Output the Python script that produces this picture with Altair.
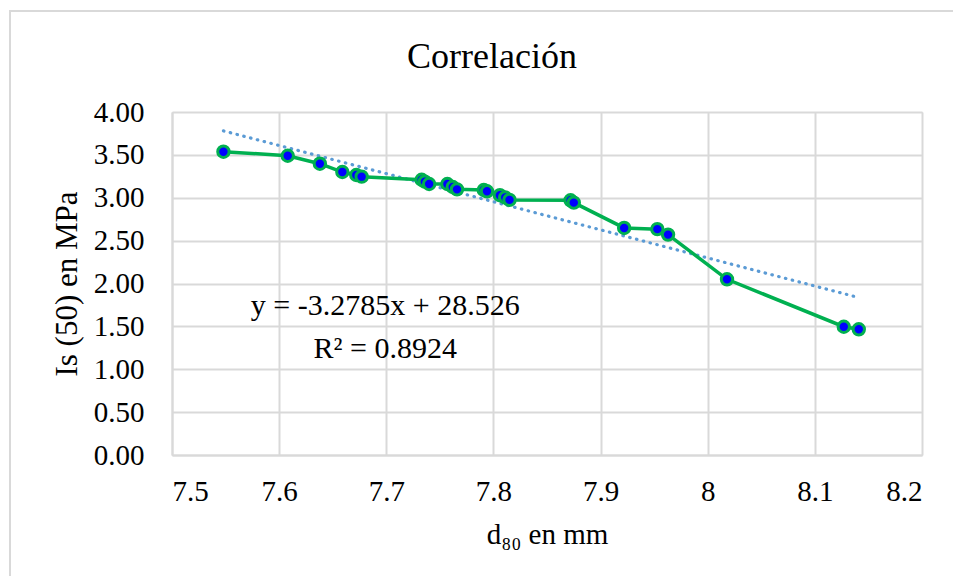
import altair as alt
import pandas as pd

# Data
d80 = [7.548, 7.608, 7.638, 7.659, 7.672, 7.677, 7.733, 7.736, 7.740, 7.757,
       7.762, 7.766, 7.791, 7.794, 7.806, 7.811, 7.815, 7.872, 7.875, 7.922,
       7.953, 7.963, 8.018, 8.127, 8.141]
is50 = [3.537, 3.49, 3.397, 3.30, 3.265, 3.246, 3.21, 3.188, 3.16, 3.16,
        3.125, 3.098, 3.09, 3.075, 3.03, 3.003, 2.975, 2.97, 2.943, 2.648,
        2.634, 2.57, 2.049, 1.496, 1.466]

# Trend line as printed on the chart
slope = -3.2785
intercept = 28.526
trend_x = [7.548, 8.141]

eq_lines = ["y = -3.2785x  + 28.526", "R² = 0.8924"]
eq_x = [7.699, 7.699]
eq_y = [1.633, 1.131]

x_ticks = [7.5, 7.6, 7.7, 7.8, 7.9, 8.0, 8.1, 8.2]
y_ticks = [0.0, 0.5, 1.0, 1.5, 2.0, 2.5, 3.0, 3.5, 4.0]

FONT = "Liberation Serif"
GREEN = "#00B050"
BLUE = "#0000FF"
TREND = "#5B9BD5"
GRID = "#d9d9d9"

df = pd.DataFrame({"d80": d80, "is50": is50})
trend_df = pd.DataFrame({"d80": trend_x})
eq_df = pd.DataFrame({"text": eq_lines, "d80": eq_x, "is50": eq_y})

xscale = alt.Scale(domain=[7.5, 8.2], nice=False, zero=False)
yscale = alt.Scale(domain=[0, 4], nice=False, zero=False)

xaxis = alt.Axis(values=x_ticks, labelExpr="format(datum.value, '.1~f')",
                 title="d₈₀ en mm", labelFontSize=29, titleFontSize=29,
                 labelPadding=22, titlePadding=14, ticks=False,
                 domainColor=GRID, domainWidth=2, gridColor=GRID, gridWidth=2,
                 labelFont=FONT, titleFont=FONT, labelColor="#000", titleColor="#000",
                 titleFontWeight="normal")
yaxis = alt.Axis(values=y_ticks, format=".2f", title="Is (50) en MPa",
                 labelFontSize=29, titleFontSize=31, labelPadding=28, titlePadding=10,
                 ticks=False, domainColor=GRID, domainWidth=2, gridColor=GRID,
                 gridWidth=2, labelFont=FONT, titleFont=FONT, labelColor="#000",
                 titleColor="#000", titleFontWeight="normal")

base = alt.Chart(df)

line = base.mark_line(color=GREEN, strokeWidth=3.5).encode(
    x=alt.X("d80:Q", scale=xscale, axis=xaxis),
    y=alt.Y("is50:Q", scale=yscale, axis=yaxis),
)

points = base.mark_point(filled=True, fill=BLUE, stroke=GREEN, strokeWidth=3,
                         size=130, opacity=1).encode(
    x=alt.X("d80:Q", scale=xscale),
    y=alt.Y("is50:Q", scale=yscale),
)

trend = alt.Chart(trend_df).transform_calculate(
    is50=f"{slope} * datum.d80 + {intercept}"
).mark_line(color=TREND, strokeWidth=3.2, strokeDash=[0.5, 6.5],
            strokeCap="round").encode(
    x=alt.X("d80:Q", scale=xscale),
    y=alt.Y("is50:Q", scale=yscale),
)

eq = alt.Chart(eq_df).mark_text(font=FONT, fontSize=30, color="#000",
                                align="center", baseline="alphabetic").encode(
    x=alt.X("d80:Q", scale=xscale),
    y=alt.Y("is50:Q", scale=yscale),
    text="text:N",
)

frame = alt.Chart(alt.Data(values=[{}])).mark_rect(
    fill=None, stroke=GRID, strokeWidth=2
).encode(
    x=alt.value(-162), x2=alt.value(830), y=alt.value(-101), y2=alt.value(500)
)

chart = alt.layer(frame, trend, line, points, eq).properties(
    width=750, height=343,
    title=alt.TitleParams("Correlación", font=FONT, fontSize=36,
                          fontWeight="normal", color="#000", anchor="middle",
                          frame="group", dx=-55, offset=0, baseline="alphabetic",
                          dy=94),
    autosize=alt.AutoSizeParams(type="none"),
    padding={"left": 164, "top": 104, "right": 31, "bottom": 121},
).configure_view(stroke=None).configure(background="white", font=FONT)

chart.save("out.html", embed_options={"renderer": "svg", "actions": False})
